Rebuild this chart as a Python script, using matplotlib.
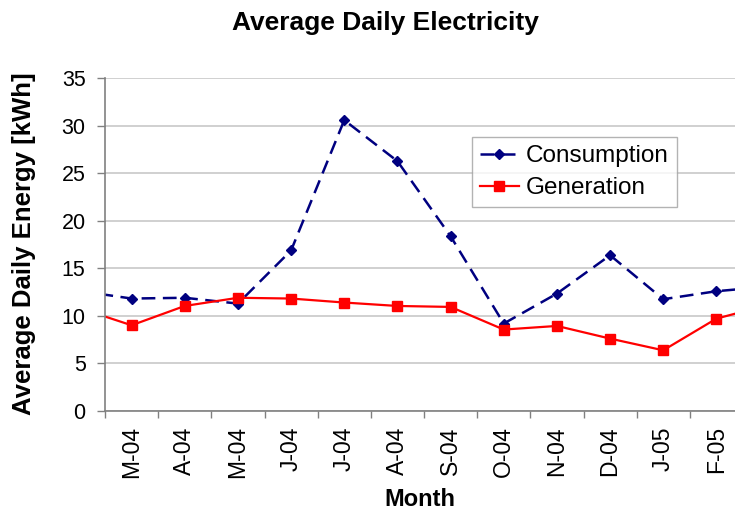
import matplotlib
matplotlib.use("Agg")
import matplotlib.pyplot as plt
import numpy as np

plt.rcParams['font.family'] = ['Liberation Sans', 'DejaVu Sans']

# Categories (first and last are partially visible, clipped by the axis range)
months = ["F-04", "M-04", "A-04", "M-04", "J-04", "J-04", "A-04", "S-04",
          "O-04", "N-04", "D-04", "J-05", "F-05", "M-05"]
consumption = [12.63, 11.82, 11.90, 11.29, 16.87, 30.57, 26.26, 18.37,
               9.19, 12.34, 16.37, 11.75, 12.59, 13.09]
generation = [10.85, 9.01, 11.04, 11.90, 11.82, 11.40, 11.04, 10.94,
              8.56, 8.94, 7.61, 6.38, 9.71, 11.18]
y_ticks = [0, 5, 10, 15, 20, 25, 30, 35]

fig = plt.figure(figsize=(7.35, 5.12), dpi=100)
ax = fig.add_axes([105/735, 1 - 411/512, (743 - 105)/735, (411 - 78)/512])

x = np.arange(len(months))
ax.plot(x, consumption, color='#000080', linestyle=(0, (5.5, 3)), linewidth=1.8,
        marker='D', markersize=5, label='Consumption')
ax.plot(x, generation, color='#FF0000', linestyle='-', linewidth=1.6,
        marker='s', markersize=7, label='Generation')

ax.set_yticks(y_ticks)
ax.set_yticklabels([str(v) for v in y_ticks], fontsize=15.5)
ax.set_xticks(x)
ax.set_xticklabels(months, rotation=90, fontsize=16.5)
ax.set_xticks(np.arange(0.5, len(months) - 1, 1.0), minor=True)
ax.set_xlim(0.5, len(months) - 1.5)
ax.set_ylim(0, 35)
ax.tick_params(axis='x', which='major', length=0, pad=11)
ax.tick_params(axis='x', which='minor', length=5, color='#808080', width=1, direction='out')
ax.tick_params(axis='y', which='major', length=6, color='#808080', width=1, direction='out', pad=8)

ax.grid(axis='y', color='#c8c8c8', linewidth=1.2)
ax.set_axisbelow(True)
for s in ['top', 'right']:
    ax.spines[s].set_visible(False)
for s in ['left', 'bottom']:
    ax.spines[s].set_color('#808080')
    ax.spines[s].set_linewidth(1.2)

ax.set_ylabel('Average Daily Energy [kWh]', fontsize=18.5, fontweight='bold')
ax.yaxis.set_label_coords((36 - 105)/(743 - 105), (411 - 244)/(411 - 78))
ax.set_xlabel('Month', fontsize=17, fontweight='bold')
ax.xaxis.set_label_coords((420 - 105)/(743 - 105), -(488 - 411)/(411 - 78))
fig.text(385/735, 1 - 23/512, 'Average Daily Electricity', fontsize=19,
         fontweight='bold', ha='center', va='center')

leg = ax.legend(loc='upper left', bbox_to_anchor=((472 - 105)/(743 - 105), (411 - 137)/(411 - 78)),
                fontsize=17.5, frameon=True, fancybox=False, edgecolor='#a0a0a0',
                borderpad=0.33, labelspacing=0.42, handlelength=1.6, handletextpad=0.3,
                borderaxespad=0)
leg.get_frame().set_linewidth(1.0)

fig.savefig('out.png', dpi=100)
